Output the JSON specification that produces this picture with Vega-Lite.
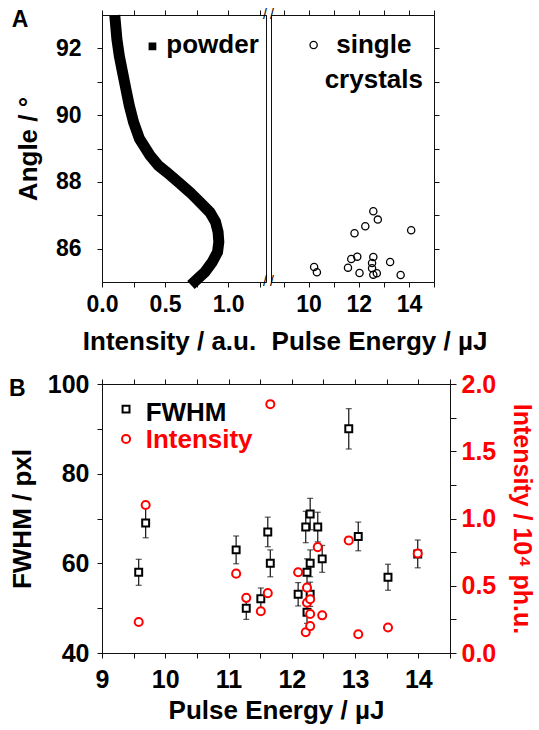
{
  "$schema": "https://vega.github.io/schema/vega-lite/v6.json",
  "padding": {"left": 8, "top": -2, "right": 4, "bottom": 0},
  "spacing": 16,
  "config": {
    "font": "Liberation Sans",
    "view": {"stroke": "#111", "strokeWidth": 1},
    "axis": {
      "grid": false, "domainColor": "#111", "tickColor": "#111", "tickSize": 5,
      "labelFont": "Liberation Sans", "labelFontWeight": "bold", "labelColor": "black", "labelFontSize": 23,
      "titleFont": "Liberation Sans", "titleFontWeight": "bold", "titleColor": "black", "titleFontSize": 26,
      "labelFlush": false, "labelOverlap": false
    },
    "text": {"font": "Liberation Sans", "fontWeight": "bold"}
  },
  "datasets": {
    "powder": [
      {"intensity": 0.105, "angle": 92.83}, {"intensity": 0.118, "angle": 92.28}, {"intensity": 0.137, "angle": 91.78},
      {"intensity": 0.163, "angle": 91.28}, {"intensity": 0.189, "angle": 90.79}, {"intensity": 0.216, "angle": 90.29},
      {"intensity": 0.25, "angle": 89.79}, {"intensity": 0.297, "angle": 89.29}, {"intensity": 0.381, "angle": 88.79},
      {"intensity": 0.447, "angle": 88.49}, {"intensity": 0.513, "angle": 88.29}, {"intensity": 0.605, "angle": 87.99},
      {"intensity": 0.697, "angle": 87.69}, {"intensity": 0.776, "angle": 87.39}, {"intensity": 0.855, "angle": 87.09},
      {"intensity": 0.9, "angle": 86.8}, {"intensity": 0.92, "angle": 86.5}, {"intensity": 0.926, "angle": 86.2},
      {"intensity": 0.916, "angle": 85.9}, {"intensity": 0.874, "angle": 85.6}, {"intensity": 0.816, "angle": 85.3},
      {"intensity": 0.737, "angle": 85.02}
    ],
    "crystals": [
      {"energy": 12.58, "angle": 87.12}, {"energy": 12.76, "angle": 86.87}, {"energy": 12.26, "angle": 86.67},
      {"energy": 11.83, "angle": 86.46}, {"energy": 14.09, "angle": 86.55}, {"energy": 11.94, "angle": 85.76},
      {"energy": 11.7, "angle": 85.69}, {"energy": 12.58, "angle": 85.75}, {"energy": 12.53, "angle": 85.57},
      {"energy": 13.25, "angle": 85.6}, {"energy": 10.22, "angle": 85.45}, {"energy": 10.33, "angle": 85.29},
      {"energy": 11.57, "angle": 85.43}, {"energy": 12.53, "angle": 85.41}, {"energy": 12.03, "angle": 85.27},
      {"energy": 12.58, "angle": 85.22}, {"energy": 12.72, "angle": 85.26}, {"energy": 13.67, "angle": 85.21}
    ],
    "panelB": [
      {"energy": 9.58, "fwhm": 58.0, "err": 2.9, "intensity": 0.23},
      {"energy": 9.69, "fwhm": 69.0, "err": 3.3, "intensity": 1.1},
      {"energy": 11.12, "fwhm": 63.0, "err": 3.1, "intensity": 0.59},
      {"energy": 11.28, "fwhm": 50.0, "err": 2.5, "intensity": 0.41},
      {"energy": 11.51, "fwhm": 52.1, "err": 2.4, "intensity": 0.31},
      {"energy": 11.62, "fwhm": 67.0, "err": 3.3, "intensity": 0.445},
      {"energy": 11.66, "fwhm": 60.0, "err": 3.0, "intensity": 1.85},
      {"energy": 12.1, "fwhm": 53.1, "err": 2.6, "intensity": 0.6},
      {"energy": 12.22, "fwhm": 68.1, "err": 3.5, "intensity": 0.154},
      {"energy": 12.24, "fwhm": 58.0, "err": 3.0, "intensity": 0.486},
      {"energy": 12.24, "fwhm": 49.1, "err": 2.5, "intensity": 0.374},
      {"energy": 12.29, "fwhm": 71.0, "err": 3.5, "intensity": 0.4},
      {"energy": 12.29, "fwhm": 60.0, "err": 3.0, "intensity": 0.29},
      {"energy": 12.29, "fwhm": 53.1, "err": 2.7, "intensity": 0.2},
      {"energy": 12.41, "fwhm": 68.1, "err": 3.3, "intensity": 0.787},
      {"energy": 12.48, "fwhm": 61.0, "err": 3.0, "intensity": 0.28},
      {"energy": 12.9, "fwhm": 90.0, "err": 4.5, "intensity": 0.837},
      {"energy": 13.05, "fwhm": 66.0, "err": 3.2, "intensity": 0.139},
      {"energy": 13.52, "fwhm": 56.9, "err": 2.9, "intensity": 0.19},
      {"energy": 13.99, "fwhm": 62.1, "err": 3.1, "intensity": 0.74}
    ]
  },
  "vconcat": [
    {
      "spacing": 5,
      "bounds": "flush",
      "hconcat": [
        {
          "width": 164, "height": 267,
          "resolve": {"axis": {"x": "independent", "y": "independent"}},
          "layer": [
            {
              "data": {"name": "powder"},
              "mark": {"type": "line", "color": "black", "strokeWidth": 11, "strokeCap": "square"},
              "encoding": {
                "x": {"field": "intensity", "type": "quantitative", "scale": {"domain": [0, 1.3], "nice": false, "zero": false},
                      "axis": {"orient": "bottom", "values": [0, 0.25, 0.5, 0.75, 1, 1.25], "labelExpr": "datum.value % 0.5 == 0 ? format(datum.value, '.1f') : ''", "title": "Intensity / a.u.", "titleX": 67, "titleAnchor": "start", "titleAlign": "center", "labelPadding": 6, "titlePadding": 12}},
                "y": {"field": "angle", "type": "quantitative", "scale": {"domain": [85, 93], "nice": false, "zero": false},
                      "axis": {"orient": "left", "values": [86, 87, 88, 89, 90, 91, 92], "labelExpr": "datum.value % 2 == 0 ? format(datum.value, 'd') : ''", "title": "Angle / °", "labelPadding": 16, "titlePadding": 14}},
                "order": {"field": "angle", "type": "quantitative"}
              }
            },
            {
              "data": {"name": "powder"},
              "mark": {"type": "point", "opacity": 0},
              "encoding": {
                "x": {"field": "intensity", "type": "quantitative", "axis": {"orient": "top", "values": [0, 0.25, 0.5, 0.75, 1, 1.25], "labels": false, "title": null}},
                "y": {"field": "angle", "type": "quantitative", "axis": null}
              }
            },
            {
              "data": {"values": [{}]},
              "mark": {"type": "point", "shape": "square", "filled": true, "color": "black", "size": 60, "opacity": 1},
              "encoding": {"x": {"datum": 0.4, "axis": null}, "y": {"datum": 92.06, "axis": null}}
            },
            {
              "data": {"values": [{}]},
              "mark": {"type": "text", "text": "powder", "fontSize": 26, "align": "left", "baseline": "alphabetic"},
              "encoding": {"x": {"datum": 0.51, "axis": null}, "y": {"datum": 91.85, "axis": null}}
            },
            {
              "data": {"values": [{}]},
              "mark": {"type": "text", "text": "A", "fontSize": 23, "align": "center", "baseline": "alphabetic"},
              "encoding": {"x": {"datum": -0.65, "axis": null}, "y": {"datum": 92.65, "axis": null}}
            },
            {
              "data": {"values": [{"a": 93}, {"a": 85}]},
              "mark": {"type": "text", "text": "/", "fontSize": 14, "fontWeight": "normal", "align": "center", "baseline": "middle", "dx": -1},
              "encoding": {"x": {"datum": 1.3, "axis": null}, "y": {"field": "a", "type": "quantitative", "axis": null}}
            }
          ]
        },
        {
          "width": 163, "height": 267,
          "resolve": {"axis": {"x": "independent", "y": "independent"}},
          "layer": [
            {
              "data": {"name": "crystals"},
              "mark": {"type": "point", "shape": "circle", "filled": false, "color": "black", "size": 52, "strokeWidth": 1.3, "opacity": 1},
              "encoding": {
                "x": {"field": "energy", "type": "quantitative", "scale": {"domain": [8.5, 15], "nice": false, "zero": false},
                      "axis": {"orient": "bottom", "values": [9, 10, 11, 12, 13, 14, 15], "labelExpr": "datum.value % 2 == 0 ? format(datum.value, 'd') : ''", "title": "Pulse Energy / µJ", "titleX": 108, "titleAnchor": "start", "titleAlign": "center", "labelPadding": 6, "titlePadding": 12}},
                "y": {"field": "angle", "type": "quantitative", "scale": {"domain": [85, 93], "nice": false, "zero": false},
                      "axis": {"orient": "right", "values": [86, 87, 88, 89, 90, 91, 92], "labels": false, "title": null}}
              }
            },
            {
              "data": {"name": "crystals"},
              "mark": {"type": "point", "opacity": 0},
              "encoding": {
                "x": {"field": "energy", "type": "quantitative", "axis": {"orient": "top", "values": [9, 10, 11, 12, 13, 14, 15], "labels": false, "title": null}},
                "y": {"field": "angle", "type": "quantitative", "axis": null}
              }
            },
            {
              "data": {"values": [{}]},
              "mark": {"type": "point", "shape": "circle", "filled": false, "color": "black", "size": 52, "strokeWidth": 1.3, "opacity": 1},
              "encoding": {"x": {"datum": 10.2, "axis": null}, "y": {"datum": 92.1, "axis": null}}
            },
            {
              "data": {"values": [{}]},
              "mark": {"type": "text", "text": ["single", "crystals"], "lineHeight": 35, "fontSize": 26, "align": "center", "baseline": "alphabetic"},
              "encoding": {"x": {"datum": 12.6, "axis": null}, "y": {"datum": 91.85, "axis": null}}
            },
            {
              "data": {"values": [{"a": 93}, {"a": 85}]},
              "mark": {"type": "text", "text": "/", "fontSize": 14, "fontWeight": "normal", "align": "center", "baseline": "middle", "dx": 1},
              "encoding": {"x": {"datum": 8.5, "axis": null}, "y": {"field": "a", "type": "quantitative", "axis": null}}
            }
          ]
        }
      ]
    },
    {
      "width": 348, "height": 269,
      "resolve": {"scale": {"y": "independent"}, "axis": {"x": "independent", "y": "independent"}},
      "layer": [
        {
          "resolve": {"axis": {"x": "independent", "y": "independent"}},
          "layer": [
            {
              "data": {"name": "panelB"},
              "mark": {"type": "errorbar", "ticks": true, "size": 6, "thickness": 1.2, "color": "#111"},
              "encoding": {
                "x": {"field": "energy", "type": "quantitative", "scale": {"domain": [9, 14.5], "nice": false, "zero": false},
                      "axis": {"orient": "bottom", "values": [9, 9.5, 10, 10.5, 11, 11.5, 12, 12.5, 13, 13.5, 14, 14.5], "labelExpr": "datum.value % 1 == 0 ? format(datum.value, 'd') : ''", "title": "Pulse Energy / µJ", "labelFontSize": 25, "labelPadding": 9, "titlePadding": 5}},
                "y": {"field": "fwhm", "type": "quantitative", "scale": {"domain": [40, 100], "nice": false, "zero": false},
                      "axis": {"orient": "left", "values": [40, 50, 60, 70, 80, 90, 100], "labelExpr": "datum.value % 20 == 0 ? format(datum.value, 'd') : ''", "title": "FWHM / pxl", "labelFontSize": 25, "labelPadding": 8, "titlePadding": 12}},
                "yError": {"field": "err"}
              }
            },
            {
              "data": {"name": "panelB"},
              "mark": {"type": "point", "shape": "square", "filled": true, "fill": "white", "stroke": "black", "strokeWidth": 2, "size": 48, "opacity": 1},
              "encoding": {
                "x": {"field": "energy", "type": "quantitative", "axis": null},
                "y": {"field": "fwhm", "type": "quantitative", "axis": null}
              }
            },
            {
              "data": {"values": [{}]},
              "mark": {"type": "point", "shape": "square", "filled": true, "fill": "white", "stroke": "black", "strokeWidth": 2, "size": 48, "opacity": 1},
              "encoding": {"x": {"datum": 9.38, "axis": null}, "y": {"datum": 94.4, "axis": null}}
            },
            {
              "data": {"values": [{}]},
              "mark": {"type": "point", "shape": "circle", "filled": true, "fill": "white", "stroke": "#ff0000", "strokeWidth": 2, "size": 65, "opacity": 1},
              "encoding": {"x": {"datum": 9.38, "axis": null}, "y": {"datum": 87.75, "axis": null}}
            },
            {
              "data": {"values": [{}]},
              "mark": {"type": "text", "text": "FWHM", "fontSize": 26, "align": "left", "baseline": "alphabetic", "color": "black"},
              "encoding": {"x": {"datum": 9.69, "axis": null}, "y": {"datum": 91.8, "axis": null}}
            },
            {
              "data": {"values": [{}]},
              "mark": {"type": "text", "text": "Intensity", "fontSize": 26, "align": "left", "baseline": "alphabetic", "color": "#ff0000"},
              "encoding": {"x": {"datum": 9.69, "axis": null}, "y": {"datum": 85.8, "axis": null}}
            },
            {
              "data": {"values": [{}]},
              "mark": {"type": "text", "text": "B", "fontSize": 23, "align": "center", "baseline": "alphabetic", "color": "black"},
              "encoding": {"x": {"datum": 7.66, "axis": null}, "y": {"datum": 97.4, "axis": null}}
            }
          ]
        },
        {
          "data": {"name": "panelB"},
          "mark": {"type": "point", "shape": "circle", "filled": true, "fill": "white", "stroke": "#ff0000", "strokeWidth": 2, "size": 65, "opacity": 1},
          "encoding": {
            "x": {"field": "energy", "type": "quantitative", "scale": {"domain": [9, 14.5], "nice": false, "zero": false},
                  "axis": {"orient": "top", "values": [9, 9.5, 10, 10.5, 11, 11.5, 12, 12.5, 13, 13.5, 14, 14.5], "labels": false, "title": null}},
            "y": {"field": "intensity", "type": "quantitative", "scale": {"domain": [0, 2], "nice": false, "zero": false},
                  "axis": {"orient": "right", "values": [0, 0.25, 0.5, 0.75, 1, 1.25, 1.5, 1.75, 2], "labelExpr": "datum.value % 0.5 == 0 ? format(datum.value, '.1f') : ''", "title": "Intensity / 10⁴ ph.u.", "labelColor": "#ff0000", "titleColor": "#ff0000", "labelFontSize": 25, "titleFontSize": 25, "tickSize": 6, "labelPadding": 5, "titlePadding": 13}}
          }
        }
      ]
    }
  ]
}
